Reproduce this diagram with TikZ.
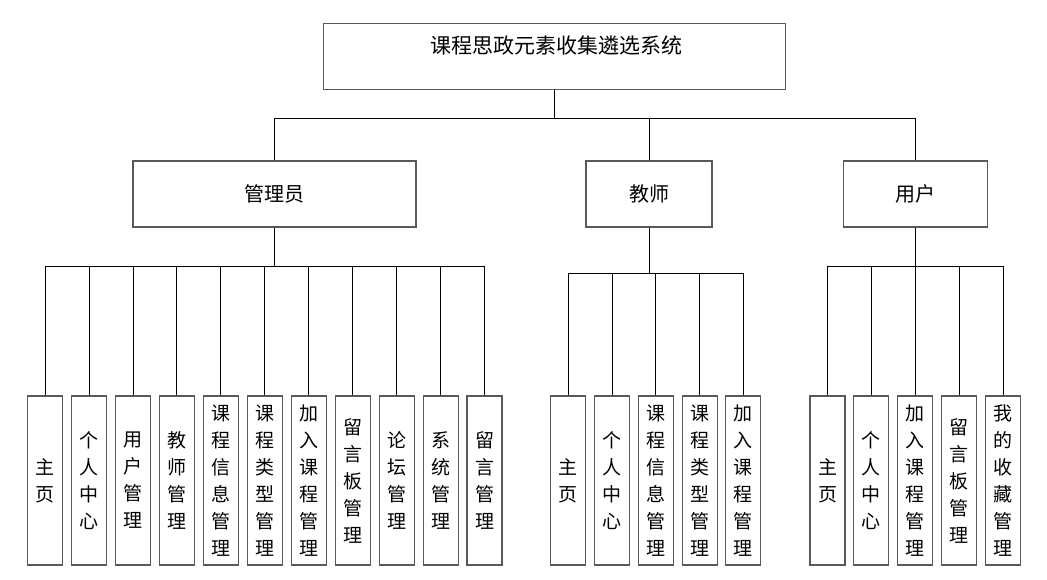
\documentclass[tikz,border=0pt]{standalone}
\usepackage{fontspec}
\newfontfamily\cjk{Noto Sans CJK SC}
\begin{document}
\begin{tikzpicture}[x=1pt,y=-1pt,
  box/.style={draw=black!65,line width=1.1pt,rectangle,inner sep=0pt,fill=white},
  leafbox/.style={box,minimum width=35pt,minimum height=169pt,align=center,
    font=\cjk\fontsize{19}{27}\selectfont},
  midbox/.style={box,minimum height=66pt,font=\cjk\fontsize{20}{24}\selectfont},
  conn/.style={draw=black,line width=1pt}]
\useasboundingbox[fill=white] (0,0) rectangle (1047,579);
% top
\node[box,minimum width=462pt,minimum height=66pt] (sys) at (554.5,56.3) {};
\node[font=\cjk\fontsize{21}{24}\selectfont,inner sep=0pt] (systxt) at (556,45) {课程思政元素收集遴选系统};
% level 2
\node[midbox,minimum width=283pt] (admin) at (274.5,194) {管理员};
\node[midbox,minimum width=126pt] (teacher) at (649,194) {教师};
\node[midbox,minimum width=144pt] (user) at (915.3,194) {用户};
\coordinate (hb) at (0,118);
\draw[conn] (sys.south) -- (sys.south |- hb);
\draw[conn] (admin.north) -- (admin.north |- hb) -- (user.north |- hb) -- (user.north);
\draw[conn] (teacher.north) -- (teacher.north |- hb);
% leaves
\foreach \t [count=\i] in {{主\\页},{个\\人\\中\\心},{用\\户\\管\\理},{教\\师\\管\\理},{课\\程\\信\\息\\管\\理},{课\\程\\类\\型\\管\\理},{加\\入\\课\\程\\管\\理},{留\\言\\板\\管\\理},{论\\坛\\管\\理},{系\\统\\管\\理},{留\\言\\管\\理}}
  \node[leafbox] (a\i) at ({45.2+43.93*(\i-1)},480.5) {\t};
\foreach \t [count=\i] in {{主\\页},{个\\人\\中\\心},{课\\程\\信\\息\\管\\理},{课\\程\\类\\型\\管\\理},{加\\入\\课\\程\\管\\理}}
  \node[leafbox] (t\i) at ({568.2+43.8*(\i-1)},480.5) {\t};
\foreach \t [count=\i] in {{主\\页},{个\\人\\中\\心},{加\\入\\课\\程\\管\\理},{留\\言\\板\\管\\理},{我\\的\\收\\藏\\管\\理}}
  \node[leafbox] (u\i) at ({827.5+43.9*(\i-1)},480.5) {\t};
\coordinate (abus) at (0,266);
\coordinate (tbus) at (0,273);
\coordinate (ubus) at (0,266);
\draw[conn] (admin.south) -- (admin.south |- abus);
\draw[conn] (a1.north |- abus) -- (a11.north |- abus);
\foreach \i in {1,...,11} \draw[conn] (a\i.north) -- (a\i.north |- abus);
\draw[conn] (teacher.south) -- (teacher.south |- tbus);
\draw[conn] (t1.north |- tbus) -- (t5.north |- tbus);
\foreach \i in {1,...,5} \draw[conn] (t\i.north) -- (t\i.north |- tbus);
\draw[conn] (user.south) -- (user.south |- ubus);
\draw[conn] (u1.north |- ubus) -- (u5.north |- ubus);
\foreach \i in {1,...,5} \draw[conn] (u\i.north) -- (u\i.north |- ubus);
\end{tikzpicture}
\end{document}
